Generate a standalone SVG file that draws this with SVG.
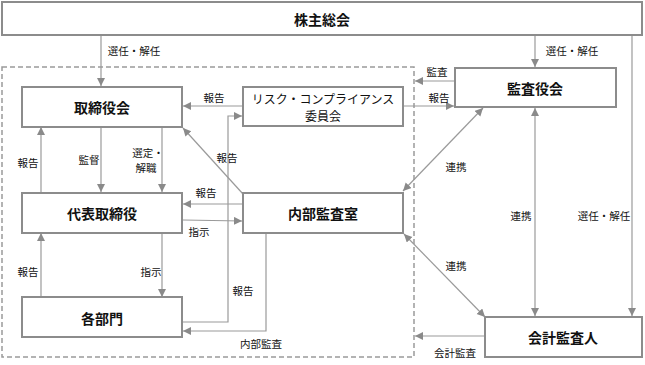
<svg xmlns="http://www.w3.org/2000/svg" width="645" height="365" viewBox="0 0 645 365">
<style>
.box{fill:#fff;stroke:#8c8c8c;stroke-width:2}
.ln{fill:none;stroke:#9a9a9a;stroke-width:1.2}
.t{font-family:"Noto Sans CJK JP","Noto Sans CJK SC",sans-serif;font-size:14px;font-weight:bold;fill:#111;text-anchor:middle;dominant-baseline:central}
.r{font-family:"Noto Sans CJK JP","Noto Sans CJK SC",sans-serif;font-size:12px;fill:#111;text-anchor:middle;dominant-baseline:central}
.l{font-family:"Noto Sans CJK JP","Noto Sans CJK SC",sans-serif;font-size:10.5px;fill:#111;text-anchor:middle;dominant-baseline:central}
</style>
<defs>
<marker id="a" markerUnits="userSpaceOnUse" markerWidth="9" markerHeight="9" refX="8" refY="4" orient="auto-start-reverse">
<path d="M0,0 L8,4 L0,8 z" fill="#8a8a8a"/>
</marker>
</defs>
<rect x="2" y="67" width="412" height="290" fill="none" stroke="#9a9a9a" stroke-width="1.5" stroke-dasharray="5,3"/>
<g id="connectors">
<line class="ln" x1="101" y1="35" x2="101" y2="86" marker-end="url(#a)"/>
<line class="ln" x1="535" y1="35" x2="535" y2="67" marker-end="url(#a)"/>
<line class="ln" x1="632" y1="35" x2="632" y2="316" marker-end="url(#a)"/>
<line class="ln" x1="101" y1="127" x2="101" y2="192" marker-end="url(#a)"/>
<line class="ln" x1="162" y1="127" x2="162" y2="192" marker-end="url(#a)"/>
<line class="ln" x1="41" y1="192" x2="41" y2="127" marker-end="url(#a)"/>
<line class="ln" x1="242" y1="106" x2="183" y2="106" marker-end="url(#a)"/>
<line class="ln" x1="403" y1="106" x2="454" y2="106" marker-end="url(#a)"/>
<line class="ln" x1="454" y1="81" x2="415" y2="81" marker-end="url(#a)"/>
<line class="ln" x1="243" y1="194" x2="183" y2="128" marker-end="url(#a)"/>
<line class="ln" x1="242" y1="204" x2="183" y2="204" marker-end="url(#a)"/>
<line class="ln" x1="183" y1="220" x2="242" y2="221" marker-end="url(#a)"/>
<line class="ln" x1="162" y1="233" x2="162" y2="297" marker-end="url(#a)"/>
<line class="ln" x1="41" y1="297" x2="41" y2="233" marker-end="url(#a)"/>
<polyline class="ln" points="183,322 228,322 228,116 242,116" marker-end="url(#a)"/>
<polyline class="ln" points="266,233 266,331 183,331" marker-end="url(#a)"/>
<line class="ln" x1="483" y1="108" x2="403" y2="191" marker-start="url(#a)" marker-end="url(#a)"/>
<line class="ln" x1="404" y1="234" x2="485" y2="317" marker-start="url(#a)" marker-end="url(#a)"/>
<line class="ln" x1="535" y1="108" x2="535" y2="316" marker-start="url(#a)" marker-end="url(#a)"/>
<line class="ln" x1="485" y1="336" x2="415" y2="336" marker-end="url(#a)"/>
</g>
<g id="labels">
<text class="l" x="134" y="50">選任・解任</text>
<text class="l" x="572" y="50">選任・解任</text>
<text class="l" x="604" y="215">選任・解任</text>
<text class="l" x="89" y="159">監督</text>
<text class="l" x="148" y="152">選定・</text>
<text class="l" x="146" y="167">解職</text>
<text class="l" x="28" y="162">報告</text>
<text class="l" x="214" y="97">報告</text>
<text class="l" x="439" y="97">報告</text>
<text class="l" x="437" y="71">監査</text>
<text class="l" x="227" y="157">報告</text>
<text class="l" x="206" y="192">報告</text>
<text class="l" x="199" y="231">指示</text>
<text class="l" x="151" y="271">指示</text>
<text class="l" x="28" y="271">報告</text>
<text class="l" x="243" y="290">報告</text>
<text class="l" x="261" y="343">内部監査</text>
<text class="l" x="456" y="166">連携</text>
<text class="l" x="456" y="265">連携</text>
<text class="l" x="521" y="215">連携</text>
<text class="l" x="455" y="352">会計監査</text>
</g>
<g id="n-shareholders"><rect class="box" x="2" y="2" width="640" height="33"/><text class="t" x="322" y="19">株主総会</text></g>
<g id="n-board"><rect class="box" x="22" y="87" width="160" height="40"/><text class="t" x="102" y="107">取締役会</text></g>
<g id="n-risk"><rect class="box" x="243" y="87" width="160" height="39"/><text class="r" x="323" y="98">リスク・コンプライアンス</text><text class="r" x="323" y="115">委員会</text></g>
<g id="n-auditors"><rect class="box" x="455" y="68" width="161" height="39"/><text class="t" x="535" y="88">監査役会</text></g>
<g id="n-ceo"><rect class="box" x="22" y="193" width="160" height="40"/><text class="t" x="102" y="213">代表取締役</text></g>
<g id="n-internal"><rect class="box" x="243" y="193" width="160" height="40"/><text class="t" x="323" y="213">内部監査室</text></g>
<g id="n-depts"><rect class="box" x="22" y="297" width="160" height="40"/><text class="t" x="102" y="318">各部門</text></g>
<g id="n-accountant"><rect class="box" x="485" y="317" width="157" height="40"/><text class="t" x="563" y="337">会計監査人</text></g>
</svg>
